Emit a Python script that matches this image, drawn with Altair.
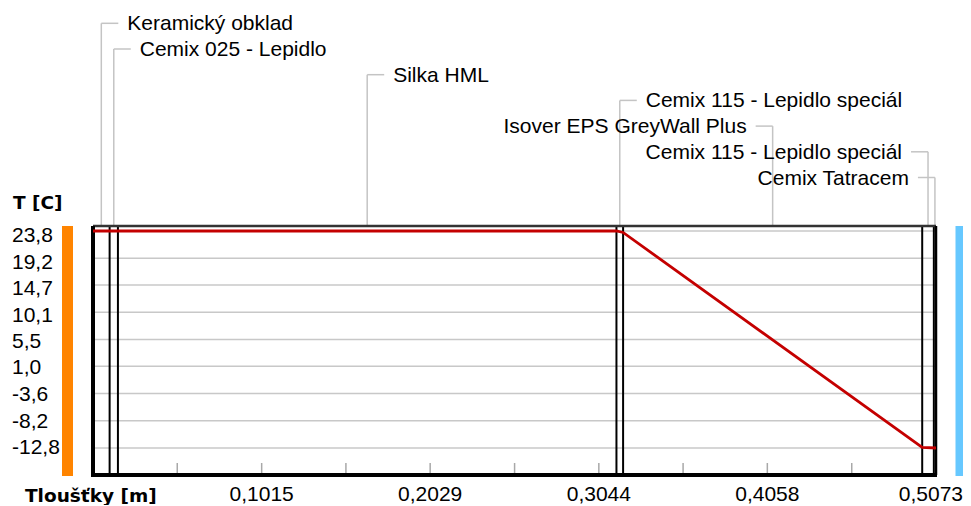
import altair as alt
import pandas as pd
import numpy as np

# ---------------- data ----------------
layer_names = ["Keramický obklad", "Cemix 025 - Lepidlo", "Silka HML",
               "Cemix 115 - Lepidlo speciál", "Isover EPS GreyWall Plus",
               "Cemix 115 - Lepidlo speciál", "Cemix Tatracem"]
layer_thickness = [0.010, 0.005, 0.300, 0.004, 0.180, 0.007, 0.0013]

temp_pos = [0.0, 0.315, 0.319, 0.499, 0.5073]
temp_values = [23.8, 23.8, 23.55, -12.7, -12.8]

y_tick_values = [23.8, 19.2, 14.7, 10.1, 5.5, 1.0, -3.6, -8.2, -12.8]
y_tick_labels = ["23,8", "19,2", "14,7", "10,1", "5,5", "1,0", "-3,6", "-8,2", "-12,8"]

x_label_values = [0.1015, 0.2029, 0.3044, 0.4058, 0.5073]
x_tick_labels = ["0,1015", "0,2029", "0,3044", "0,4058", "0,5073"]
x_minor_ticks = [0.0507, 0.1015, 0.1522, 0.2029, 0.2537, 0.3044, 0.3551, 0.4058, 0.4566]

x_title = "Tloušťky [m]"
y_title = "T [C]"
X_MAX = 0.5073

# ---------------- derived tables ----------------
ends = np.cumsum(layer_thickness)
starts = ends - np.array(layer_thickness)
layers = pd.DataFrame({
    "name": layer_names,
    "start": starts,
    "end": ends,
    "center": (starts + ends) / 2,
    "idx": list(range(len(layer_names))),
})
bounds = pd.DataFrame({"b": ends[:-1]})
temp = pd.DataFrame({"x": temp_pos, "t": temp_values})
yt = pd.DataFrame({"v": y_tick_values, "lab": y_tick_labels})
xl = pd.DataFrame({"v": x_label_values, "lab": x_tick_labels,
                   "k": list(range(len(x_label_values)))})
xt = pd.DataFrame({"x": x_minor_ticks})
one = pd.DataFrame({"a": [0]})

W, H = 843, 249
FONT = "Liberation Sans"
xs = alt.Scale(domain=[0, X_MAX], nice=False, zero=False)
ys = alt.Scale(domain=[-17.35, 24.64], nice=False, zero=False)
ys_lab = alt.Scale(domain=[-17.54, 25.35], nice=False, zero=False)

grid = alt.Chart(yt).mark_rule(color="#c8c8c8", strokeWidth=1.5).encode(
    y=alt.Y("v:Q", scale=ys, axis=None), x=alt.value(0), x2=alt.value(W))

minor = alt.Chart(xt).mark_rule(color="#a8a8a8", strokeWidth=1.5).encode(
    x=alt.X("x:Q", scale=xs, axis=None), y=alt.value(H - 12), y2=alt.value(H - 2))

bnd = alt.Chart(bounds).mark_rule(color="black", strokeWidth=2).encode(
    x=alt.X("b:Q", scale=xs, axis=None), y=alt.value(0), y2=alt.value(H))

frame_top = alt.Chart(one).mark_rule(color="#333333", strokeWidth=2.5).encode(
    x=alt.value(0), x2=alt.value(W), y=alt.value(0))
frame_bottom = alt.Chart(one).mark_rule(color="black", strokeWidth=4).encode(
    x=alt.value(-2), x2=alt.value(W + 1), y=alt.value(H))
frame_left = alt.Chart(one).mark_rule(color="black", strokeWidth=4).encode(
    x=alt.value(0), y=alt.value(0), y2=alt.value(H))
frame_right = alt.Chart(one).mark_rule(color="black", strokeWidth=2.5).encode(
    x=alt.value(W), y=alt.value(0), y2=alt.value(H))

line = alt.Chart(temp).mark_line(color="#c40000", strokeWidth=2.8).encode(
    x=alt.X("x:Q", scale=xs, axis=None), y=alt.Y("t:Q", scale=ys, axis=None))

lead = alt.Chart(layers).transform_calculate(ly="-202.7 + 25.7 * datum.idx")
lead_v = lead.mark_rule(color="#c4c4c4", strokeWidth=1.5).encode(
    x=alt.X("center:Q", scale=xs, axis=None), y=alt.Y("ly:Q", scale=None), y2=alt.value(0))
lead_hr = lead.transform_filter("datum.idx < 4").mark_rule(
    color="#c4c4c4", strokeWidth=1.5, x2Offset=17).encode(
    x=alt.X("center:Q", scale=xs, axis=None), x2="center:Q", y=alt.Y("ly:Q", scale=None))
lead_hl = lead.transform_filter("datum.idx >= 4").mark_rule(
    color="#c4c4c4", strokeWidth=1.5, x2Offset=-17).encode(
    x=alt.X("center:Q", scale=xs, axis=None), x2="center:Q", y=alt.Y("ly:Q", scale=None))
txt_r = lead.transform_filter("datum.idx < 4").mark_text(
    align="left", baseline="middle", dx=26, dy=1, font=FONT, fontSize=21, color="black").encode(
    x=alt.X("center:Q", scale=xs, axis=None), y=alt.Y("ly:Q", scale=None), text="name:N")
txt_l = lead.transform_filter("datum.idx >= 4").mark_text(
    align="right", baseline="middle", dx=-26, dy=1, font=FONT, fontSize=21, color="black").encode(
    x=alt.X("center:Q", scale=xs, axis=None), y=alt.Y("ly:Q", scale=None), text="name:N")

ylabels = alt.Chart(yt).mark_text(
    align="left", baseline="middle", dy=1, font=FONT, fontSize=21, color="black").encode(
    x=alt.value(-81), y=alt.Y("v:Q", scale=ys_lab, axis=None), text="lab:N")
xlabels = alt.Chart(xl).transform_filter("datum.k < 4").mark_text(
    align="center", baseline="middle", dy=1, font=FONT, fontSize=21, color="black").encode(
    x=alt.X("v:Q", scale=xs, axis=None), y=alt.value(267.5), text="lab:N")
xlabel_last = alt.Chart(xl).transform_filter("datum.k == 4").mark_text(
    align="right", baseline="middle", dx=27, dy=1, font=FONT, fontSize=21, color="black").encode(
    x=alt.X("v:Q", scale=xs, axis=None), y=alt.value(267.5), text="lab:N")

ttl = alt.Chart(pd.DataFrame({"t": [y_title, x_title], "k": [0, 1]}))
ytitle = ttl.transform_filter("datum.k == 0").mark_text(
    align="left", baseline="middle", dy=1, font="DejaVu Sans", fontWeight="bold",
    fontSize=18.5, color="black").encode(x=alt.value(-80), y=alt.value(-24.5), text="t:N")
xtitle = ttl.transform_filter("datum.k == 1").mark_text(
    align="left", baseline="middle", dy=1, font="DejaVu Sans", fontWeight="bold",
    fontSize=18.5, color="black").encode(x=alt.value(-68), y=alt.value(268.5), text="t:N")

orange = alt.Chart(one).mark_rect(color="#ff8400").encode(
    x=alt.value(-31), x2=alt.value(-20), y=alt.value(0), y2=alt.value(H + 1))
blue = alt.Chart(one).mark_rect(color="#66c8ff").encode(
    x=alt.value(W + 19.5), x2=alt.value(W + 30), y=alt.value(0), y2=alt.value(H + 1))

chart = alt.layer(
    grid, minor, orange, blue, lead_v, lead_hr, lead_hl, bnd,
    frame_top, frame_right, frame_left, frame_bottom, line,
    txt_r, txt_l, ylabels, xlabels, xlabel_last, ytitle, xtitle,
).resolve_scale(y="independent").properties(
    width=W, height=H,
    autosize=alt.AutoSizeParams(type="none"),
    padding={"left": 85, "top": 218, "right": 27, "bottom": 30},
    background="white",
).configure_view(stroke=None)

chart.save("out.html", embed_options={"renderer": "svg", "actions": False})
